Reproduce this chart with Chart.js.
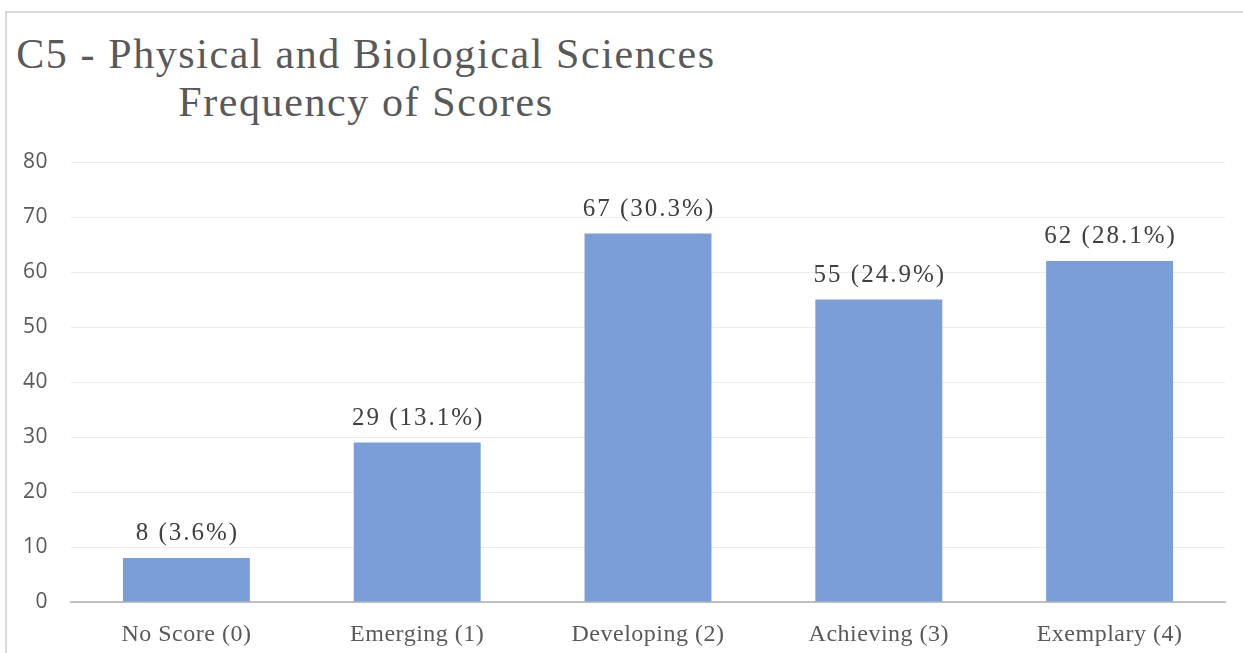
<!DOCTYPE html>
<html>
<head>
<meta charset="utf-8">
<script src="https://cdn.jsdelivr.net/npm/chart.js@4"></script>
<style>
  html, body { margin: 0; padding: 0; background: #fff; }
  #wrap { position: relative; width: 1243px; height: 653px; overflow: hidden; }
  #frame { position: absolute; left: 5px; top: 11px; width: 1300px; height: 700px;
           border-left: 2px solid #d9d9d9; border-top: 2px solid #d9d9d9; }
  #title { position: absolute; left: 0px; top: 30px; width: 732px; text-align: center;
           font-family: "Liberation Serif", "Times New Roman", serif; font-size: 42px;
           letter-spacing: 1.6px; line-height: 48px; color: #595959; }
  canvas { position: absolute; left: 0; top: 0; }
</style>
</head>
<body>
<div id="wrap">
  <div id="frame"></div>
  <div id="title">C5 - Physical and Biological Sciences<br>Frequency of Scores</div>
  <canvas id="scoreChart" width="1243" height="653"></canvas>
</div>
<script>
// data
const categories = ['No Score (0)', 'Emerging (1)', 'Developing (2)', 'Achieving (3)', 'Exemplary (4)'];
const counts = [8, 29, 67, 55, 62];
const percents = ['3.6%', '13.1%', '30.3%', '24.9%', '28.1%'];
const yTicks = [0, 10, 20, 30, 40, 50, 60, 70, 80];

// slightly wider lettering for the serif texts
const spacing = {
    id: 'spacing',
    beforeDraw(chart) { chart.ctx.letterSpacing = '0.5px'; }
};

// labels like "8 (3.6%)" above each bar
const barLabels = {
    id: 'barLabels',
    afterDatasetsDraw(chart) {
        const c = chart.ctx;
        const meta = chart.getDatasetMeta(0);
        c.save();
        c.font = '25px "Liberation Serif", "Times New Roman", serif';
        c.letterSpacing = '2px';
        c.fillStyle = '#404040';
        c.textAlign = 'center';
        c.textBaseline = 'alphabetic';
        meta.data.forEach((bar, i) => {
            c.fillText(counts[i] + ' (' + percents[i] + ')', bar.x + 1, bar.y - 18);
        });
        c.restore();
    }
};

const ctx = document.getElementById('scoreChart').getContext('2d');
const scoreChart = new Chart(ctx, {
    type: 'bar',
    data: {
        labels: categories,
        datasets: [{
            data: counts,
            backgroundColor: '#7b9ed8',
            borderWidth: 0,
            categoryPercentage: 1,
            barPercentage: 0.55
        }]
    },
    options: {
        responsive: false,
        animation: false,
        layout: {
            padding: { left: 10, right: 18, top: 162, bottom: 0 }
        },
        plugins: {
            legend: { display: false },
            tooltip: { enabled: false }
        },
        scales: {
            x: {
                grid: { display: false },
                border: { color: '#bfbfbf', width: 2 },
                ticks: {
                    color: '#595959',
                    padding: 10,
                    font: { family: '"Liberation Serif", "Times New Roman", serif', size: 24 }
                },
                afterFit(scale) { scale.height = 51; }
            },
            y: {
                min: 0,
                max: 80,
                afterBuildTicks(scale) { scale.ticks = yTicks.map(v => ({ value: v })); },
                grid: { color: '#ececec', lineWidth: 1, drawTicks: false },
                border: { display: false },
                ticks: {
                    color: '#595959',
                    padding: 23,
                    font: { family: '"Open Sans", sans-serif', size: 21 }
                },
                afterFit(scale) { scale.width = 61; }
            }
        }
    },
    plugins: [spacing, barLabels]
});
</script>
</body>
</html>
